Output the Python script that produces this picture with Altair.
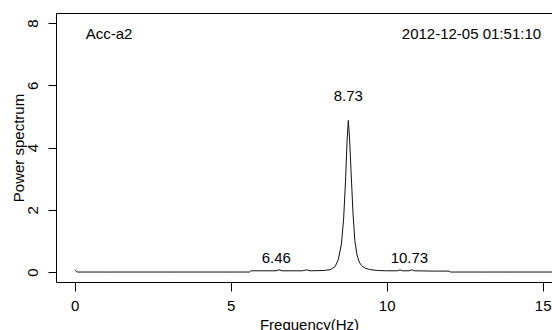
import altair as alt
import pandas as pd

# Spectrum
freq = [0.00, 0.03, 0.06, 0.10, 1.00, 3.00, 5.00, 5.60, 5.65, 6.00, 6.45, 6.55, 6.65,
        7.30, 7.43, 7.55, 8.00, 8.20, 8.35, 8.45, 8.55, 8.62, 8.68, 8.73, 8.77, 8.81,
        8.86, 8.92, 8.98, 9.05, 9.12, 9.20, 9.30, 9.45, 9.70, 10.00, 10.35, 10.43,
        10.50, 10.72, 10.80, 10.88, 11.50, 12.00, 12.05, 13.00, 14.00, 15.30]
power = [0.07, 0.05, 0.01, 0.00, 0.00, 0.00, 0.00, 0.00, 0.04, 0.04, 0.04, 0.07, 0.04,
         0.04, 0.07, 0.04, 0.05, 0.08, 0.18, 0.40, 0.90, 1.70, 2.90, 4.20, 4.87, 4.30,
         3.20, 1.90, 1.00, 0.55, 0.32, 0.20, 0.13, 0.08, 0.05, 0.04, 0.04, 0.07,
         0.04, 0.04, 0.07, 0.04, 0.03, 0.03, 0.00, 0.00, 0.00, 0.00]

peak_labels = ["6.46", "8.73", "10.73"]
peak_x = [6.46, 8.77, 10.73]
peak_y = [0.46, 5.65, 0.46]

corner_texts = ["Acc-a2", "2012-12-05 01:51:10"]
corner_x = [0.35, 14.95]
corner_y = [7.63, 7.63]
corner_align = ["left", "right"]

x_ticks = [0, 5, 10, 15]
y_ticks = [0, 2, 4, 6, 8]

W, H = 496, 269
FONT = "Liberation Sans"
FS = 15

spec = pd.DataFrame({"f": freq, "p": power})
peaks = pd.DataFrame({"t": peak_labels, "x": peak_x, "y": peak_y})
corner = pd.DataFrame({"t": corner_texts, "x": corner_x, "y": corner_y, "a": corner_align})

xscale = alt.Scale(domain=[-0.6, 15.3], nice=False, zero=False)
yscale = alt.Scale(domain=[-0.32, 8.32], nice=False, zero=False)

xaxis = alt.Axis(values=x_ticks, grid=False, domainColor="black", tickColor="black",
                 tickSize=9, labelFontSize=FS, labelFont=FONT, labelColor="black",
                 labelPadding=7, labelFlush=False,
                 title="Frequency(Hz)", titleFontSize=FS, titleFont=FONT,
                 titleFontWeight="normal", titleColor="black",
                 titleX=253, titleY=47, titleBaseline="alphabetic", titleAnchor="middle")
yaxis = alt.Axis(values=y_ticks, grid=False, domainColor="black", tickColor="black",
                 tickSize=8, labelFontSize=FS, labelFont=FONT, labelColor="black",
                 labelAngle=270, labelAlign="center", labelBaseline="alphabetic",
                 labelPadding=11, labelFlush=False,
                 title="Power spectrum", titleFontSize=FS, titleFont=FONT,
                 titleFontWeight="normal", titleColor="black",
                 titleX=-38, titleY=H / 2, titleAngle=270, titleAlign="center",
                 titleBaseline="middle")

line = alt.Chart(spec).mark_line(color="#111111", strokeWidth=1, clip=True).encode(
    x=alt.X("f:Q", scale=xscale, axis=xaxis),
    y=alt.Y("p:Q", scale=yscale, axis=yaxis),
)

ptext = alt.Chart(peaks).mark_text(font=FONT, fontSize=FS, color="black",
                                  align="center", baseline="middle").encode(
    x=alt.X("x:Q", scale=xscale),
    y=alt.Y("y:Q", scale=yscale),
    text="t:N",
)

ctext_l = alt.Chart(corner[corner["a"] == "left"]).mark_text(
    font=FONT, fontSize=FS, color="black", align="left", baseline="middle").encode(
    x=alt.X("x:Q", scale=xscale), y=alt.Y("y:Q", scale=yscale), text="t:N")
ctext_r = alt.Chart(corner[corner["a"] == "right"]).mark_text(
    font=FONT, fontSize=FS, color="black", align="right", baseline="middle").encode(
    x=alt.X("x:Q", scale=xscale), y=alt.Y("y:Q", scale=yscale), text="t:N")

top_rule = alt.Chart(pd.DataFrame({"d": [0]})).mark_rule(color="black", strokeWidth=1).encode(
    x=alt.value(0), x2=alt.value(W), y=alt.value(0.5))

chart = alt.layer(line, ptext, ctext_l, ctext_r, top_rule).properties(
    width=W, height=H,
    autosize=alt.AutoSizeParams(type="none"),
    padding={"left": 56, "top": 13, "right": 0, "bottom": 48},
    background="white",
).configure_view(stroke=None)

chart.save("out.html", embed_options={"renderer": "svg", "actions": False})
